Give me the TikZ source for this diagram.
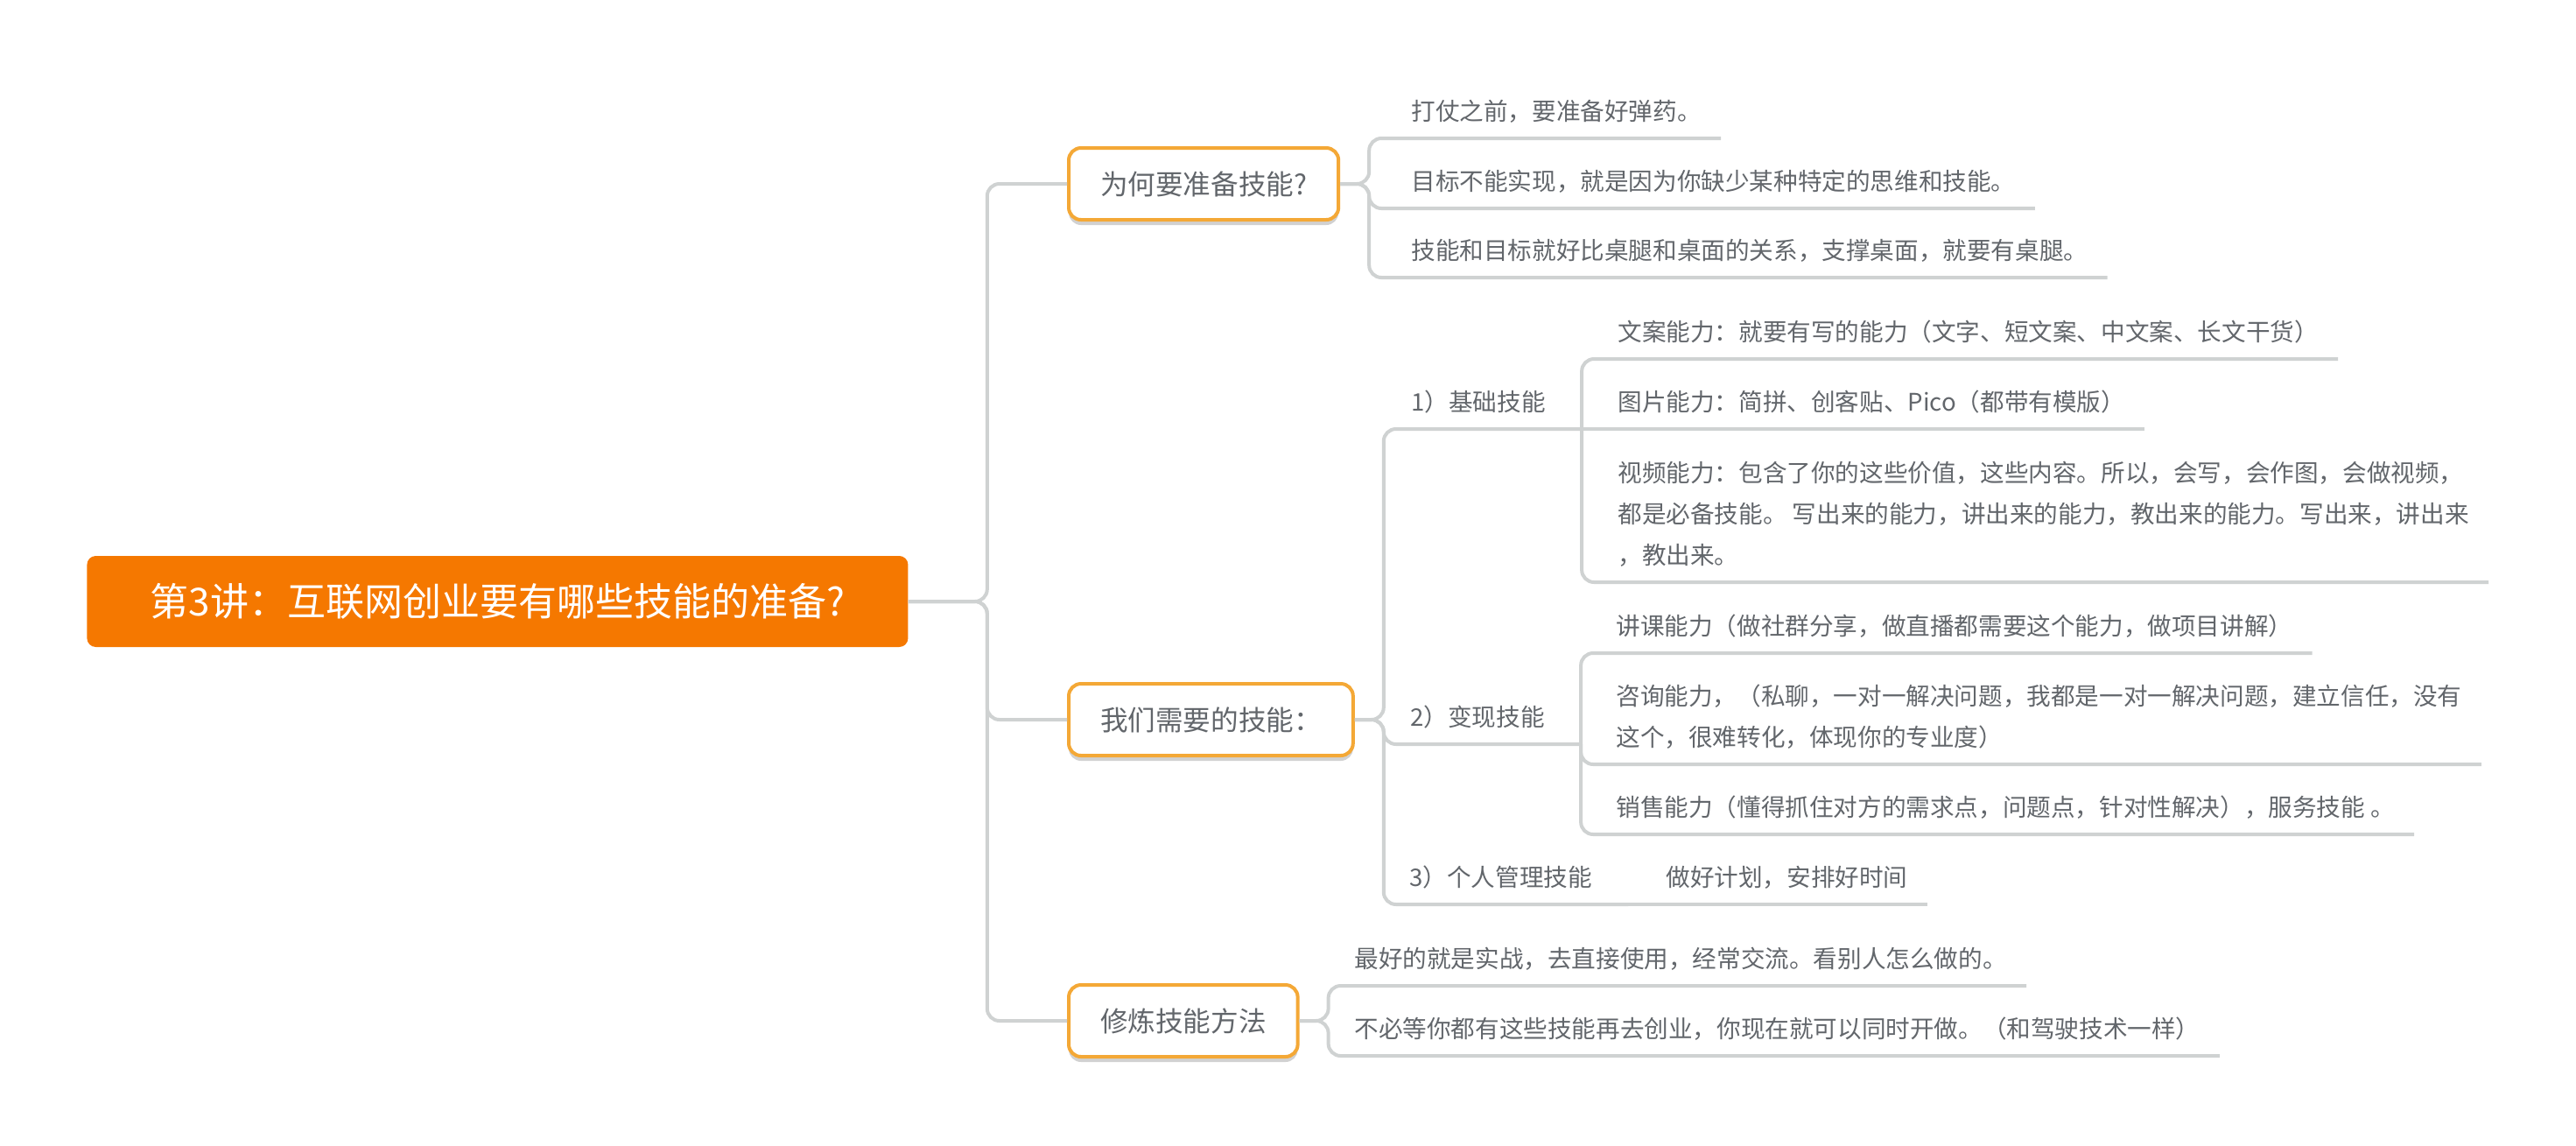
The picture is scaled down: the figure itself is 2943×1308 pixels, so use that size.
\documentclass[tikz,border=0pt]{standalone}
\usepackage{fontspec}
\newfontfamily\cjk{Noto Sans CJK SC}
\usetikzlibrary{shadows}

\definecolor{rootorange}{RGB}{245,120,0}
\definecolor{boxorange}{RGB}{244,168,54}
\definecolor{txtgray}{RGB}{98,102,107}
\definecolor{linegray}{RGB}{207,210,210}

\tikzset{
  rootbox/.style={fill=rootorange, text=white, rounded corners=5pt, minimum width=469pt, minimum height=52pt, anchor=west, font=\cjk\fontsize{22}{26}\selectfont},
  mainbox/.style={draw=boxorange, line width=2pt, fill=white, rounded corners=7pt, text=txtgray, inner xsep=18pt, minimum height=41pt, anchor=west, font=\cjk\fontsize{15.8}{18}\selectfont, drop shadow={shadow xshift=0pt, shadow yshift=-3pt, opacity=0.18, fill=black}},
  leaf/.style={text=txtgray, anchor=south west, inner xsep=11pt, inner ysep=10pt, text depth=0pt, align=left, font=\cjk\fontsize{13.8}{23.5}\selectfont},
  subleaf/.style={leaf, inner xsep=20.5pt},
  branch/.style={draw=linegray, line width=2pt, rounded corners=7pt},
}

\begin{document}
\begin{tikzpicture}[x=0.5pt, y=-0.5pt]
		%%%%% START %%%%%
		\useasboundingbox (0,0) rectangle (2943,1308);
		
		\node[rootbox] (root) at (99,687) {第3讲：互联网创业要有哪些技能的准备?};
		
		\node[mainbox] (why) at (1219,210) {为何要准备技能?};
		\node[mainbox] (need) at (1219,822) {我们需要的技能：};
		\node[mainbox] (train) at (1219,1166) {修炼技能方法};
		
		% why
		\node[leaf] (why1) at (1590,158) {打仗之前，要准备好弹药。};
		\node[leaf] (why2) at (1590,238) {目标不能实现，就是因为你缺少某种特定的思维和技能。};
		\node[leaf] (why3) at (1590,317) {技能和目标就好比桌腿和桌面的关系，支撑桌面，就要有桌腿。};
		
		% need
		\node[subleaf] (basic) at (1571,490) {1）基础技能};
		\node[leaf] (basic1) at (1826,410) {文案能力：就要有写的能力（文字、短文案、中文案、长文干货）};
		\node[leaf] (basic2) at (1826,490) {图片能力：简拼、创客贴、Pico（都带有模版）};
		\node[leaf] (basic3) at (1826,665) {视频能力：包含了你的这些价值，这些内容。所以，会写，会作图，会做视频，\\都是必备技能。 写出来的能力，讲出来的能力，教出来的能力。写出来，讲出来\\，教出来。};
		
		\node[subleaf] (earn) at (1570,850) {2）变现技能};
		\node[leaf] (earn1) at (1824,746) {讲课能力（做社群分享，做直播都需要这个能力，做项目讲解）};
		\node[leaf] (earn2) at (1824,873) {咨询能力，（私聊，一对一解决问题，我都是一对一解决问题，建立信任，没有\\这个，很难转化，体现你的专业度）};
		\node[leaf] (earn3) at (1824,953) {销售能力（懂得抓住对方的需求点，问题点，针对性解决），服务技能 。};
		
		\node[subleaf] (self) at (1569,1033) {3）个人管理技能};
		\node[leaf] (self1) at (1881,1033) {做好计划，安排好时间};
		
		% train
		\node[leaf] (train1) at (1525,1126) {最好的就是实战，去直接使用，经常交流。看别人怎么做的。};
		\node[leaf] (train2) at (1525,1206) {不必等你都有这些技能再去创业，你现在就可以同时开做。（和驾驶技术一样）};
		
		% branches
		\draw[branch] (root.east) -- ++(90,0) |- (why.west);
		\draw[branch] (root.east) -- ++(90,0) |- (need.west);
		\draw[branch] (root.east) -- ++(90,0) |- (train.west);
		
		\draw[branch] (why.east) -- ++(33,0) |- (why1.south east);
		\draw[branch] (why.east) -- ++(33,0) |- (why2.south east);
		\draw[branch] (why.east) -- ++(33,0) |- (why3.south east);
		
		\draw[branch] (need.east) -- ++(33,0) |- (basic.south east);
		\draw[branch] (need.east) -- ++(33,0) |- (earn.south east);
		\draw[branch] (need.east) -- ++(33,0) |- (self.south east);
		
		\draw[branch] (basic.south east) |- (basic1.south east);
		\draw[branch] (basic.south east) -- (basic2.south east);
		\draw[branch] (basic.south east) |- (basic3.south east);
		
		\draw[branch] (earn.south east) |- (earn1.south east);
		\draw[branch] (earn.south east) |- (earn2.south east);
		\draw[branch] (earn.south east) |- (earn3.south east);
		
		\draw[branch] (self.south east) -- (self1.south east);
		
		\draw[branch] (train.east) -- ++(33,0) |- (train1.south east);
		\draw[branch] (train.east) -- ++(33,0) |- (train2.south east);
		
		%%%%% END %%%%%
	\end{tikzpicture}
\end{document}
